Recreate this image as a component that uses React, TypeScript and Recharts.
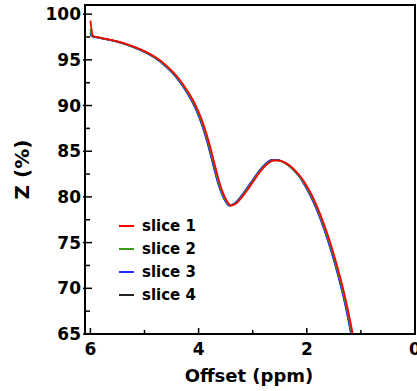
import React from 'react';
import { LineChart, Line, XAxis, YAxis, ReferenceArea, Legend } from 'recharts';

const SERIES_NAMES = ['slice 1', 'slice 2', 'slice 3', 'slice 4'];
const SERIES_COLORS = ['#ff0000', '#3a9a1e', '#1f2dff', '#222222'];

const OFFSET_S1 = [6.0, 5.95, 5.8, 5.6, 5.4, 5.2, 5.0, 4.8, 4.6, 4.4, 4.2, 4.1, 4.0, 3.9, 3.8, 3.7, 3.6, 3.5, 3.4, 3.3, 3.2, 3.1, 3.0, 2.9, 2.8, 2.7, 2.6, 2.5, 2.4, 2.3, 2.2, 2.1, 2.0, 1.9, 1.8, 1.7, 1.6, 1.5, 1.4, 1.3, 1.2, 1.1, 1.0];
const Z_S1 = [99.3, 97.6, 97.4, 97.15, 96.85, 96.45, 95.95, 95.3, 94.4, 93.2, 91.55, 90.55, 89.3, 87.75, 85.8, 83.5, 81.3, 79.8, 79.05, 79.3, 79.95, 80.75, 81.6, 82.45, 83.2, 83.75, 84.0, 83.97, 83.75, 83.35, 82.8, 82.1, 81.2, 80.1, 78.8, 77.3, 75.6, 73.7, 71.6, 69.25, 66.5, 63.2, 59.3];

const OFFSET_S2 = [6.0, 5.965, 5.815, 5.615, 5.415, 5.215, 5.015, 4.815, 4.615, 4.415, 4.215, 4.115, 4.015, 3.915, 3.815, 3.715, 3.615, 3.515, 3.415, 3.315, 3.215, 3.115, 3.015, 2.915, 2.815, 2.715, 2.615, 2.515, 2.415, 2.315, 2.215, 2.115, 2.015, 1.915, 1.815, 1.715, 1.615, 1.515, 1.415, 1.315, 1.215, 1.115, 1.015];
const Z_S2 = [98.4, 97.6, 97.4, 97.15, 96.85, 96.45, 95.95, 95.3, 94.4, 93.2, 91.55, 90.55, 89.3, 87.75, 85.8, 83.5, 81.3, 79.8, 79.05, 79.3, 79.95, 80.75, 81.6, 82.45, 83.2, 83.75, 84.0, 83.97, 83.75, 83.35, 82.8, 82.1, 81.2, 80.1, 78.8, 77.3, 75.6, 73.7, 71.6, 69.25, 66.5, 63.2, 59.3];

const OFFSET_S3 = [6.0, 5.98, 5.83, 5.63, 5.43, 5.23, 5.03, 4.83, 4.63, 4.43, 4.23, 4.13, 4.03, 3.93, 3.83, 3.73, 3.63, 3.53, 3.43, 3.33, 3.23, 3.13, 3.03, 2.93, 2.83, 2.73, 2.63, 2.53, 2.43, 2.33, 2.23, 2.13, 2.03, 1.93, 1.83, 1.73, 1.63, 1.53, 1.43, 1.33, 1.23, 1.13, 1.03];
const Z_S3 = [98.0, 97.6, 97.4, 97.15, 96.85, 96.45, 95.95, 95.3, 94.4, 93.2, 91.55, 90.55, 89.3, 87.75, 85.8, 83.5, 81.3, 79.8, 79.05, 79.3, 79.95, 80.75, 81.6, 82.45, 83.2, 83.8, 84.05, 84.02, 83.8, 83.4, 82.85, 82.15, 81.2, 80.1, 78.8, 77.3, 75.6, 73.7, 71.6, 69.25, 66.5, 63.2, 59.3];

const OFFSET_S4 = [6.0, 5.975, 5.825, 5.625, 5.425, 5.225, 5.025, 4.825, 4.625, 4.425, 4.225, 4.125, 4.025, 3.925, 3.825, 3.725, 3.625, 3.525, 3.425, 3.325, 3.225, 3.125, 3.025, 2.925, 2.825, 2.725, 2.625, 2.525, 2.425, 2.325, 2.225, 2.125, 2.025, 1.925, 1.825, 1.725, 1.625, 1.525, 1.425, 1.325, 1.225, 1.125, 1.025];
const Z_S4 = [97.9, 97.6, 97.4, 97.15, 96.85, 96.45, 95.95, 95.3, 94.4, 93.2, 91.55, 90.55, 89.3, 87.75, 85.8, 83.5, 81.3, 79.8, 79.05, 79.3, 79.95, 80.75, 81.6, 82.45, 83.2, 83.8, 84.05, 84.02, 83.8, 83.4, 82.85, 82.15, 81.2, 80.1, 78.8, 77.3, 75.6, 73.7, 71.6, 69.25, 66.5, 63.2, 59.3];

const X_TICKS = [0, 1, 2, 3, 4, 5, 6];
const X_LABELED = [0, 2, 4, 6];
const Y_TICKS = [65, 67.5, 70, 72.5, 75, 77.5, 80, 82.5, 85, 87.5, 90, 92.5, 95, 97.5, 100];
const Y_LABELED = [65, 70, 75, 80, 85, 90, 95, 100];

const X_LABEL = 'Offset (ppm)';
const Y_LABEL = 'Z (%)';

const FONT = '"DejaVu Sans", Verdana, sans-serif';

const build = (xs: number[], zs: number[]) => xs.map((x, i) => ({ x, z: zs[i] }));

const SERIES = [
  build(OFFSET_S1, Z_S1),
  build(OFFSET_S2, Z_S2),
  build(OFFSET_S3, Z_S3),
  build(OFFSET_S4, Z_S4),
];

const XTick = (props: any) => {
  const { x, y, payload } = props;
  const major = X_LABELED.includes(payload.value);
  return (
    <g>
      <line x1={x} x2={x} y1={y} y2={y - (major ? 6 : 4)} stroke="#000" strokeWidth={1.5} />
      {major && (
        <text x={x} y={y + 15} textAnchor="middle" dominantBaseline="central" fontFamily={FONT} fontWeight="bold" fontSize={17} fill="#000">
          {payload.value}
        </text>
      )}
    </g>
  );
};

const YTick = (props: any) => {
  const { x, y, payload } = props;
  const major = Y_LABELED.includes(payload.value);
  return (
    <g>
      <line x1={major ? x - 2 : x} x2={x + (major ? 7 : 5)} y1={y} y2={y} stroke="#000" strokeWidth={1.5} />
      {major && (
        <text x={x - 4} y={y} textAnchor="end" dominantBaseline="central" fontFamily={FONT} fontWeight="bold" fontSize={17} fill="#000">
          {payload.value}
        </text>
      )}
    </g>
  );
};

const LegendBox = () => (
  <div style={{ fontFamily: FONT, fontWeight: 'bold', fontSize: 15, color: '#000' }}>
    {SERIES_NAMES.map((name, i) => (
      <div key={name} style={{ display: 'flex', alignItems: 'center', height: 23 }}>
        <div style={{ width: 15, height: 2, background: SERIES_COLORS[i], marginLeft: 3, marginRight: 8 }} />
        <span>{name}</span>
      </div>
    ))}
  </div>
);

export default function App() {
  return (
    <div style={{ position: 'absolute', left: 0, top: 0, width: 417, height: 391, background: '#fff' }}>
      <LineChart width={417} height={391} margin={{ top: 5, right: 2, bottom: 0, left: 0 }}>
        <XAxis
          type="number"
          dataKey="x"
          domain={[0, 6.1]}
          reversed
          allowDataOverflow
          ticks={X_TICKS}
          interval={0}
          height={57}
          tickSize={0}
          tickMargin={0}
          tickLine={false}
          axisLine={{ stroke: '#000', strokeWidth: 2 }}
          tick={<XTick />}
          label={(p: any) => {
            const vb = p.viewBox;
            return (
              <text x={vb.x + vb.width / 2 - 1} y={vb.y + 41} textAnchor="middle" dominantBaseline="central" fontFamily={FONT} fontWeight="bold" fontSize={18} fill="#000">
                {X_LABEL}
              </text>
            );
          }}
        />
        <YAxis
          type="number"
          dataKey="z"
          domain={[65, 101]}
          allowDataOverflow
          ticks={Y_TICKS}
          interval={0}
          width={85}
          tickSize={0}
          tickMargin={0}
          tickLine={false}
          axisLine={{ stroke: '#000', strokeWidth: 2 }}
          tick={<YTick />}
          label={(p: any) => {
            const vb = p.viewBox;
            const cx = 22;
            const cy = vb.y + vb.height / 2;
            return (
              <text x={cx} y={cy} transform={`rotate(-90 ${cx} ${cy})`} textAnchor="middle" dominantBaseline="central" fontFamily={FONT} fontWeight="bold" fontSize={20} fill="#000">
                {Y_LABEL}
              </text>
            );
          }}
        />
        <ReferenceArea x1={0} x2={6.1} y1={65} y2={101} fill="none" fillOpacity={0} stroke="#000" strokeWidth={2} />
        {[3, 2, 1, 0].map((i) => (
          <Line
            key={SERIES_NAMES[i]}
            data={SERIES[i]}
            dataKey="z"
            name={SERIES_NAMES[i]}
            type="monotone"
            stroke={SERIES_COLORS[i]}
            strokeWidth={1.8}
            dot={false}
            activeDot={false}
            isAnimationActive={false}
          />
        ))}
        <Legend
          layout="vertical"
          align="center"
          verticalAlign="middle"
          wrapperStyle={{ left: 116, top: 214, width: 120, height: 92 }}
          content={() => <LegendBox />}
        />
      </LineChart>
    </div>
  );
}
